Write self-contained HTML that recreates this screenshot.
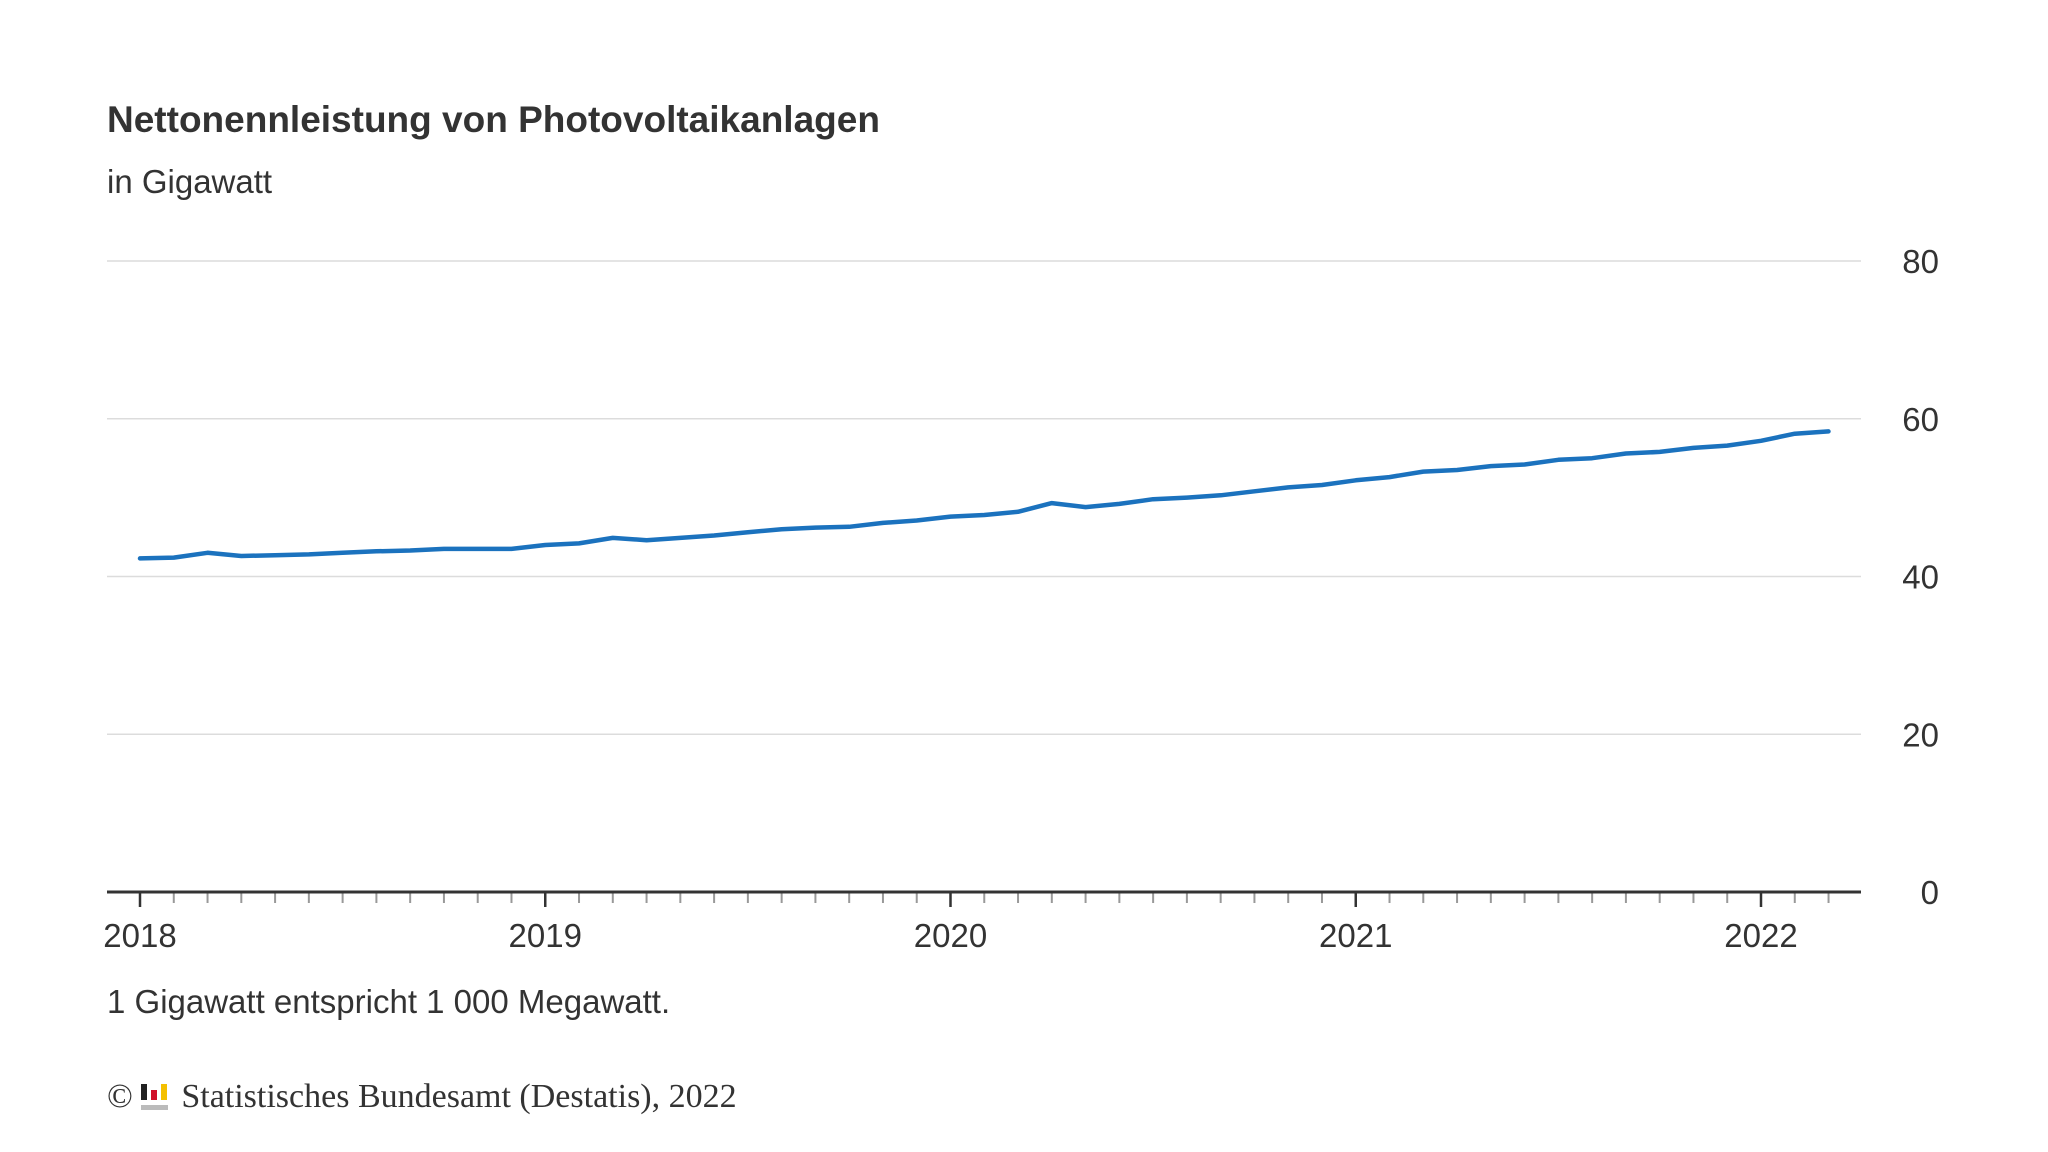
<!DOCTYPE html>
<html><head><meta charset="utf-8"><style>
html,body{margin:0;padding:0;background:#fff;}
body{width:2048px;height:1152px;overflow:hidden;position:relative;font-family:"Liberation Sans",Arial,sans-serif;color:#333;}
.t{position:absolute;white-space:nowrap;}
</style></head><body>
<div class="t" style="left:107px;top:99px;font-size:37px;font-weight:bold;color:#333;">Nettonennleistung von Photovoltaikanlagen</div>
<div class="t" style="left:107px;top:163px;font-size:33px;color:#333;">in Gigawatt</div>
<svg id="chart" width="2048" height="1152" style="position:absolute;left:0;top:0;font-family:'Liberation Sans',Arial,sans-serif;"></svg>
<div class="t" style="left:107px;top:983px;font-size:33px;color:#333;">1 Gigawatt entspricht 1 000 Megawatt.</div>
<div class="t" style="left:107px;top:1078px;font-family:'Liberation Serif',serif;font-size:34px;color:#333;">
<span>©</span>
<svg width="30" height="30" style="position:absolute;left:34px;top:6px;">
<rect x="0" y="0" width="6" height="16" fill="#222"/><rect x="10" y="6" width="6" height="10" fill="#d0102a"/><rect x="20" y="0" width="6" height="16" fill="#f4c000"/><rect x="0" y="21" width="27" height="5" fill="#bbb"/></svg>
<span style="margin-left:40px;">Statistisches Bundesamt (Destatis), 2022</span>
</div>
<script>
const categories = ["2018-01","2018-02","2018-03","2018-04","2018-05","2018-06","2018-07","2018-08","2018-09","2018-10","2018-11","2018-12",
"2019-01","2019-02","2019-03","2019-04","2019-05","2019-06","2019-07","2019-08","2019-09","2019-10","2019-11","2019-12",
"2020-01","2020-02","2020-03","2020-04","2020-05","2020-06","2020-07","2020-08","2020-09","2020-10","2020-11","2020-12",
"2021-01","2021-02","2021-03","2021-04","2021-05","2021-06","2021-07","2021-08","2021-09","2021-10","2021-11","2021-12",
"2022-01","2022-02","2022-03"];
const values = [42.3,42.4,43.0,42.6,42.7,42.8,43.0,43.2,43.3,43.5,43.5,43.5,
44.0,44.2,44.9,44.6,44.9,45.2,45.6,46.0,46.2,46.3,46.8,47.1,
47.6,47.8,48.2,49.3,48.8,49.2,49.8,50.0,50.3,50.8,51.3,51.6,
52.2,52.6,53.3,53.5,54.0,54.2,54.8,55.0,55.6,55.8,56.3,56.6,
57.2,58.1,58.4];
const yTicks = [0,20,40,60,80];
const yearLabels = ["2018","2019","2020","2021","2022"];
const extraTickMonths = 3;

const svg = document.getElementById('chart');
const NS = 'http://www.w3.org/2000/svg';
const L = 107, R = 1861, Y0 = 892, Y80 = 261;
const X0 = 140, monthW = (1761 - 140) / 48;
const x = i => X0 + i * monthW;
const y = v => Y0 - (v / 80) * (Y0 - Y80);
function mk(t, a){const e=document.createElementNS(NS,t);for(const k in a)e.setAttribute(k,a[k]);svg.appendChild(e);return e;}

yTicks.forEach(v => {
  if (v > 0) {
    const g = mk('line',{x1:L,x2:R,y1:y(v),y2:y(v),stroke:'#dcdcdc','stroke-width':1.5});
    
    
  }
  const t = mk('text',{x:1939,y:y(v)+12,'text-anchor':'end','font-size':33,fill:'#333'});
  t.textContent = v;
  
  
});

const total = categories.length + extraTickMonths - 3;
for (let i = 0; i <= categories.length - 1; i++) {
  const major = i % 12 === 0;
  const tk = mk('line',{x1:x(i),x2:x(i),y1:Y0,y2:Y0+(major?15:11),stroke:major?'#333':'#999','stroke-width':major?2.5:2});
  
  
}
yearLabels.forEach((lab, k) => {
  const t = mk('text',{x:x(k*12),y:947,'text-anchor':'middle','font-size':33,fill:'#333'});
  t.textContent = lab;
  
  
});
const ax = mk('line',{x1:L,x2:R,y1:Y0,y2:Y0,stroke:'#333','stroke-width':3});



const d = values.map((v,i)=>(i?'L':'M')+x(i).toFixed(1)+','+y(v).toFixed(1)).join(' ');
const p = mk('path',{d:d,fill:'none',stroke:'#1b72be','stroke-width':4.5,'stroke-linejoin':'round','stroke-linecap':'round'});


</script>
</body></html>
